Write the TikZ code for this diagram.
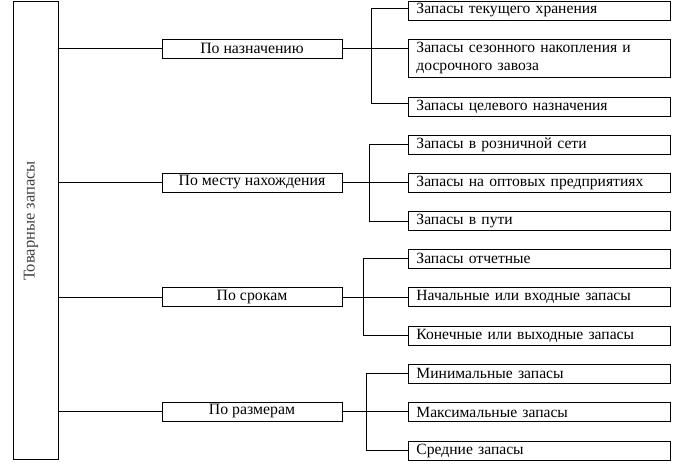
\documentclass[tikz,border=0pt]{standalone}
\usepackage{fontspec}
\setmainfont{Liberation Serif}
\tikzset{rootbox/.style={draw, line width=0.9pt, minimum width=45pt, minimum height=458pt, inner sep=0pt},
    kindbox/.style={draw, line width=0.9pt, minimum width=180pt, minimum height=19pt, inner sep=0pt,
        font=\fontsize{15.8}{18}\selectfont},
    itembox/.style={draw, line width=0.9pt, anchor=west, minimum height=19pt, text width=246pt,
        inner xsep=8pt, inner ysep=0pt, align=left, font=\fontsize{15.6}{18}\selectfont},
    link/.style={line width=0.9pt}
}

\begin{document}
\begin{tikzpicture}[x=1pt,y=-1pt]
      \useasboundingbox (0,0) rectangle (699,465);
      \node[rootbox] (root) at (35.5,230) {};
      \node[rotate=90, text=black!75, font=\fontsize{16.5}{18}\selectfont] (rootlabel) at (31,221) {Товарные запасы};
      \node[kindbox] (k1) at (252,48.5) {По назначению};
      \node[kindbox] (k2) at (252,182.5) {По месту нахождения};
      \node[kindbox] (k3) at (252,297) {По срокам};
      \node[kindbox] (k4) at (252,411.5) {По размерам};
      \node[itembox] (i1a) at (408,10.5) {Запасы текущего хранения};
      \node[itembox, minimum height=38pt] (i1b) at (408,58) {Запасы сезонного накопления и\\досрочного завоза};
      \node[itembox] (i1c) at (408,106.5) {Запасы целевого назначения};
      \node[itembox] (i2a) at (408,144.5) {Запасы в розничной сети};
      \node[itembox] (i2b) at (408,182.5) {Запасы на оптовых предприятиях};
      \node[itembox] (i2c) at (408,221) {Запасы в пути};
      \node[itembox] (i3a) at (408,258.5) {Запасы отчетные};
      \node[itembox] (i3b) at (408,297) {Начальные или входные запасы};
      \node[itembox] (i3c) at (408,335.5) {Конечные или выходные запасы};
      \node[itembox] (i4a) at (408,373.5) {Минимальные запасы};
      \node[itembox] (i4b) at (408,412) {Максимальные запасы};
      \node[itembox] (i4c) at (408,450.5) {Средние запасы};
      \coordinate (bus1) at (371,0);
      \coordinate (bus2) at (369,0);
      \coordinate (bus3) at (363,0);
      \coordinate (bus4) at (366,0);
      \coordinate (i1ain) at ([yshift=2.5pt]i1a.west);
      \coordinate (i1cin) at ([yshift=3pt]i1c.west);
      \draw[link] (k1.west) -- (k1.west -| root.east);
      \draw[link] (k2.west) -- (k2.west -| root.east);
      \draw[link] (k3.west) -- (k3.west -| root.east);
      \draw[link] (k4.west) -- (k4.west -| root.east);
      \draw[link] (k1.east) -- (k1.east -| i1b.west);
      \draw[link] (k2.east) -- (k2.east -| i2b.west);
      \draw[link] (k3.east) -- (k3.east -| i3b.west);
      \draw[link] (k4.east) -- (k4.east -| i4b.west);
      \draw[link] (i1ain) -| (bus1 |- i1cin) -- (i1cin);
      \draw[link] (i2a.west) -| (bus2 |- i2c.west) -- (i2c.west);
      \draw[link] (i3a.west) -| (bus3 |- i3c.west) -- (i3c.west);
      \draw[link] (i4a.west) -| (bus4 |- i4c.west) -- (i4c.west);
    \end{tikzpicture}
\end{document}
